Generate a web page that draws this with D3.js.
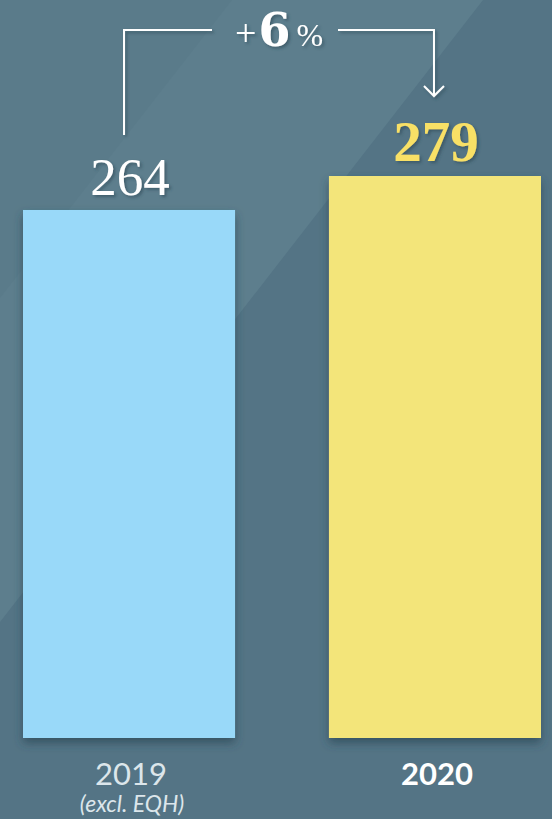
<!DOCTYPE html>
<html>
<head>
<meta charset="utf-8">
<script src="https://cdn.jsdelivr.net/npm/d3@7"></script>
<style>
  html, body { margin: 0; padding: 0; background: #547485; }
  svg { display: block; }
</style>
</head>
<body>
<svg id="chart" width="552" height="819"></svg>
<script>
// chart data
var years = ["2019", "2020"];
var values = [264, 279];
var valueLabels = ["264", "279"];
var subLabels = ["(excl. EQH)", ""];
var changeLabel = ["+", "6", "%"];

var svg = d3.select("#chart"),
    width = +svg.attr("width"),
    height = +svg.attr("height");

var defs = svg.append("defs");
var shadow = defs.append("filter").attr("id", "shadow")
    .attr("x", "-20%").attr("y", "-20%").attr("width", "140%").attr("height", "140%");
shadow.append("feDropShadow")
    .attr("dx", 2).attr("dy", 2).attr("stdDeviation", 1.5)
    .attr("flood-color", "#2c4654").attr("flood-opacity", 0.6);

var barShadow = defs.append("filter").attr("id", "barShadow")
    .attr("x", "-10%").attr("y", "-10%").attr("width", "120%").attr("height", "120%");
barShadow.append("feDropShadow")
    .attr("dx", 0).attr("dy", 5).attr("stdDeviation", 5)
    .attr("flood-color", "#2a4555").attr("flood-opacity", 0.7);

// background with the diagonal light band
svg.append("rect").attr("width", width).attr("height", height).attr("fill", "#547485");
svg.append("path")
    .attr("d", "M0,0 L483,0 L0,622 Z")
    .attr("fill", "#5d7e8d");
svg.append("path")
    .attr("d", "M0,0 L232,0 L0,298 Z")
    .attr("fill", "#5a7b8a");

var x = d3.scaleBand()
    .domain(years)
    .range([23, 541])
    .paddingInner(0.307)
    .paddingOuter(0);

var y = d3.scaleLinear()
    .domain([31, 279])
    .range([738, 176]);

var data = years.map(function(d, i) {
    return { year: d, value: values[i], label: valueLabels[i], sub: subLabels[i] };
});

var barColors = ["#99d9f9", "#f3e57a"];

svg.selectAll("rect.bar")
    .data(data)
    .enter()
    .append("rect")
    .attr("class", "bar")
    .attr("x", function(d) { return x(d.year); })
    .attr("y", function(d) { return y(d.value); })
    .attr("width", x.bandwidth())
    .attr("height", function(d) { return y(31) - y(d.value); })
    .attr("fill", function(d, i) { return barColors[i]; })
    .attr("filter", "url(#barShadow)");

// value labels
svg.selectAll("text.value")
    .data(data)
    .enter()
    .append("text")
    .attr("class", "value")
    .attr("x", function(d) { return x(d.year) + x.bandwidth() / 2 + 1; })
    .attr("y", function(d) { return y(d.value) - 15; })
    .attr("text-anchor", "middle")
    .attr("font-family", "'Liberation Serif', serif")
    .attr("font-size", function(d, i) { return i == 1 ? 57 : 53; })
    .attr("font-weight", function(d, i) { return i == 1 ? "bold" : "normal"; })
    .attr("fill", function(d, i) { return i == 1 ? "#f8e066" : "#ffffff"; })
    .attr("filter", "url(#shadow)")
    .text(function(d) { return d.label; });

// year labels
svg.selectAll("text.year")
    .data(data)
    .enter()
    .append("text")
    .attr("class", "year")
    .attr("x", function(d) { return x(d.year) + x.bandwidth() / 2 + 2; })
    .attr("y", 785)
    .attr("text-anchor", "middle")
    .attr("font-family", "Lato, sans-serif")
    .attr("font-size", 31)
    .attr("font-weight", function(d, i) { return i == 1 ? "bold" : "normal"; })
    .attr("fill", function(d, i) { return i == 1 ? "#ffffff" : "#dce6eb"; })
    .text(function(d) { return d.year; });

svg.selectAll("text.sub")
    .data(data.filter(function(d) { return d.sub; }))
    .enter()
    .append("text")
    .attr("class", "sub")
    .attr("x", function(d) { return x(d.year) + x.bandwidth() / 2 + 3; })
    .attr("y", 812)
    .attr("text-anchor", "middle")
    .attr("font-family", "Lato, sans-serif")
    .attr("font-style", "italic")
    .attr("font-size", 23)
    .attr("fill", "#dce6eb")
    .text(function(d) { return d.sub; });

// bracket with the arrow
var x1 = x("2019") + x.bandwidth() / 2 - 5,
    x2 = x("2020") + x.bandwidth() / 2 - 1,
    topY = 30;

var bracket = svg.append("g")
    .attr("fill", "none")
    .attr("stroke", "#ffffff")
    .attr("stroke-width", 2)
    .attr("filter", "url(#shadow)");

bracket.append("path")
    .attr("d", "M" + x1 + "," + (y(values[0]) - 75) + " V" + topY + " H212");
bracket.append("path")
    .attr("d", "M338," + topY + " H" + x2 + " V" + (y(values[1]) - 80));
bracket.append("path")
    .attr("d", "M" + (x2 - 10) + "," + (y(values[1]) - 90) + " L" + x2 + "," + (y(values[1]) - 80) +
        " L" + (x2 + 10) + "," + (y(values[1]) - 90));

var change = svg.append("text")
    .attr("x", 279)
    .attr("y", 46)
    .attr("text-anchor", "middle")
    .attr("fill", "#ffffff")
    .attr("filter", "url(#shadow)");
change.append("tspan")
    .attr("font-family", "'Liberation Serif', serif")
    .attr("font-size", 38).text(changeLabel[0]);
change.append("tspan")
    .attr("font-family", "'DejaVu Serif', serif")
    .attr("font-size", 46).attr("font-weight", "bold").attr("dx", 2).text(changeLabel[1]);
change.append("tspan")
    .attr("font-family", "'Liberation Serif', serif")
    .attr("font-size", 32).attr("dx", 6).text(changeLabel[2]);
</script>
</body>
</html>
